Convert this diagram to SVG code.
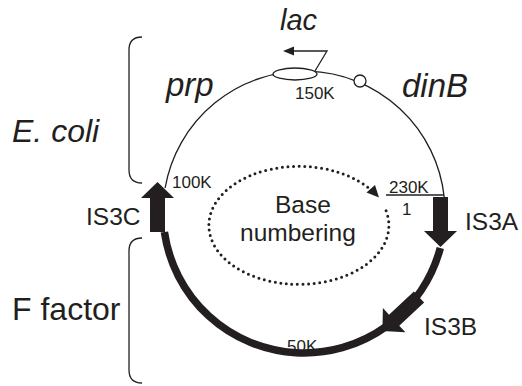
<svg xmlns="http://www.w3.org/2000/svg" width="522" height="386" viewBox="0 0 522 386">
<defs>
<style>
text{font-family:"Liberation Sans",Arial,sans-serif;fill:#231f20}
.it{font-style:italic}
.big{font-size:33px}
.is{font-size:24.5px}
.sm{font-size:17px}
.thin{fill:none;stroke:#231f20;stroke-width:1.3}
.thick{fill:none;stroke:#231f20;stroke-width:7.5}
.dot{fill:none;stroke:#231f20;stroke-width:3;stroke-linecap:round;stroke-dasharray:0 5.6}
.ar{fill:#231f20}
</style>
<path id="isarrow" d="M-7.5,0 H7.5 V34 H16.5 L0,50 L-16.5,34 H-7.5 Z"/>
</defs>
<rect width="522" height="386" fill="#fff"/>
<g id="connectors">
<path class="thin" d="M165.1,188 A141,141 0 0 1 444.2,197"/>
<path class="thick" d="M440.3,248 A141,141 0 0 1 164.4,232"/>
<path class="thin" d="M386,195 H444"/>
<path class="thin" d="M315,71 L327,51 H292"/>
<path class="ar" d="M283,51 L294,46.5 L294,55.5 Z"/>
<path class="dot" d="M386.1,210.8 A90,59 0 1 1 371.5,190.5"/>
<path class="ar" d="M379,197.5 L366.5,192.5 L375,185 Z"/>
</g>
<g id="lac-gene"><ellipse cx="295" cy="74" rx="22" ry="6" fill="#fff" stroke="#231f20" stroke-width="1.3"/></g>
<g id="dinB-site"><circle cx="360" cy="81" r="6" fill="#fff" stroke="#231f20" stroke-width="1.3"/></g>
<g id="IS3A"><use href="#isarrow" class="ar" transform="translate(440.5,197)"/><text class="is" x="465" y="230">IS3A</text></g>
<g id="IS3B"><use href="#isarrow" class="ar" transform="translate(419,297) rotate(47)"/><text class="is" x="424" y="335">IS3B</text></g>
<g id="IS3C"><use href="#isarrow" class="ar" transform="translate(157.5,232) rotate(180)"/><text class="is" x="86" y="225">IS3C</text></g>
<g id="labels">
<text class="big it" x="280" y="30" style="font-size:29px">lac</text>
<text class="big it" x="166" y="96">prp</text>
<text class="big it" x="402" y="97">dinB</text>
<text class="sm" x="295" y="99">150K</text>
<text class="sm" x="172" y="188">100K</text>
<text class="sm" x="389" y="193">230K</text>
<text class="sm" x="402" y="215">1</text>
<text class="sm" x="287" y="352">50K</text>
</g>
<g id="base-numbering">
<text class="is" x="275" y="213">Base</text>
<text class="is" x="240" y="241">numbering</text>
</g>
<g id="ecoli">
<path class="thin" d="M142,37 Q129,37 129,50 V170 Q129,183 142,183"/>
<text class="it" x="12" y="142" style="font-size:32px">E. coli</text>
</g>
<g id="ffactor">
<path class="thin" d="M142,238 Q129,238 129,251 V370 Q129,383 142,383"/>
<text x="12" y="320" style="font-size:32px">F factor</text>
</g>
</svg>
